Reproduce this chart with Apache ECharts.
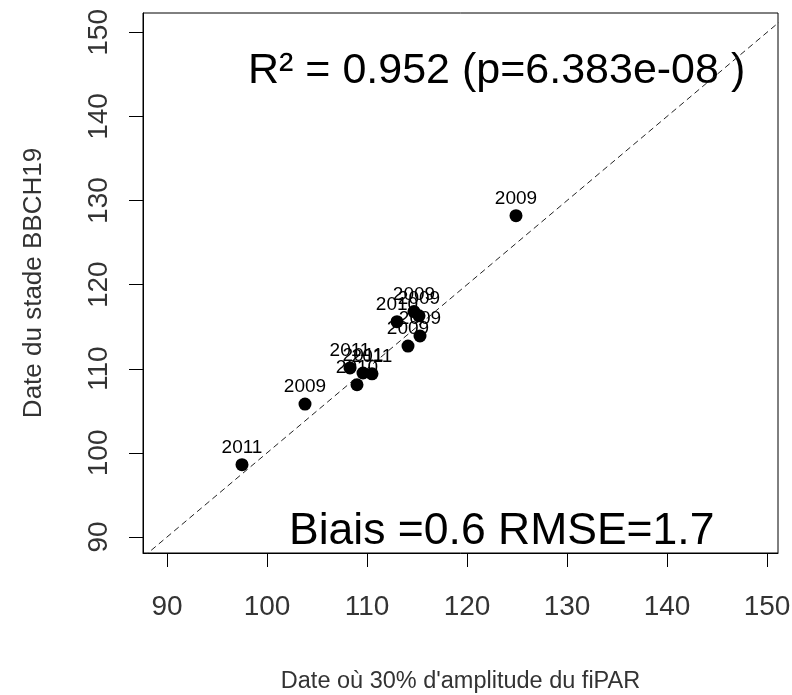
<!DOCTYPE html>
<html><head><meta charset="utf-8">
<script src="https://cdn.jsdelivr.net/npm/echarts@6/dist/echarts.min.js"></script>
<style>html,body{margin:0;padding:0;background:#fff}#c{width:792px;height:695px}</style>
</head><body><div id="c"></div>
<script>
// Data
const xValues = [124.9, 97.5, 103.8, 108.3, 109.6, 110.5, 109.0, 113.0, 114.7, 115.2, 115.3, 114.1];
const yValues = [128.2, 98.6, 105.8, 110.1, 109.5, 109.4, 108.1, 115.6, 116.8, 116.3, 113.9, 112.7];
const yearLabels = ['2009','2011','2009','2011','2011','2011','2010','2010','2009','2009','2009','2009'];
const tickValues = [90, 100, 110, 120, 130, 140, 150];
const refLine = [80, 160]; // 1:1 line extent
const xTitle = "Date où 30% d'amplitude du fiPAR";
const yTitle = "Date du stade BBCH19";
const r2Text = "R² = 0.952 (p=6.383e-08 )";
const biasText = "Biais =0.6 RMSE=1.7";

const FONT = "'Liberation Sans', Arial, sans-serif";
const chart = echarts.init(document.getElementById('c'), null, {renderer: 'canvas'});

const points = xValues.map((x, i) => ({value: [x, yValues[i]], label: {formatter: yearLabels[i]}}));

const axisCommon = {
  type: 'value',
  splitLine: {show: false},
  axisLine: {show: true, onZero: false, lineStyle: {color: '#000', width: 1}},
  axisTick: {show: true, inside: false, length: 14, customValues: tickValues, lineStyle: {color: '#000', width: 1}},
  axisLabel: {customValues: tickValues, color: '#333', fontFamily: FONT, fontSize: 28},
  nameLocation: 'middle',
  nameTextStyle: {color: '#333', fontFamily: FONT}
};

chart.setOption({
  animation: false,
  backgroundColor: '#fff',
  grid: {left: 143, right: 14, top: 13, bottom: 142, containLabel: false, outerBoundsMode: 'none', show: true, borderColor: '#000', borderWidth: 1, backgroundColor: 'transparent'},
  xAxis: Object.assign({}, axisCommon, {
    min: 87.6, max: 151.1,
    name: xTitle, nameGap: 117,
    nameTextStyle: {color: '#333', fontFamily: FONT, fontSize: 23.5},
    axisLabel: Object.assign({}, axisCommon.axisLabel, {margin: 40})
  }),
  yAxis: Object.assign({}, axisCommon, {
    min: 88.1, max: 152.3,
    name: yTitle, nameGap: 96,
    nameTextStyle: {color: '#333', fontFamily: FONT, fontSize: 26},
    axisLabel: Object.assign({}, axisCommon.axisLabel, {margin: 30, rotate: 90})
  }),
  graphic: [
    {type: 'text', style: {text: r2Text, fontFamily: FONT, fontSize: 43, fill: '#000'}, top: 50, left: 248},
    {type: 'text', style: {text: biasText, fontFamily: FONT, fontSize: 44.5, fill: '#000'}, top: 509, left: 289}
  ],
  series: [
    {
      type: 'line',
      data: [[refLine[0], refLine[0]], [refLine[1], refLine[1]]],
      symbol: 'none',
      clip: true,
      lineStyle: {color: '#222', width: 1, type: [6, 4]},
      silent: true,
      z: 1
    },
    {
      type: 'scatter',
      data: points,
      symbol: 'circle',
      symbolSize: 13,
      itemStyle: {color: '#000', opacity: 1},
      label: {show: true, position: 'top', distance: 1, color: '#000', opacity: 1, fontFamily: FONT, fontSize: 19},
      emphasis: {disabled: true},
      z: 3
    }
  ]
});
</script></body></html>
